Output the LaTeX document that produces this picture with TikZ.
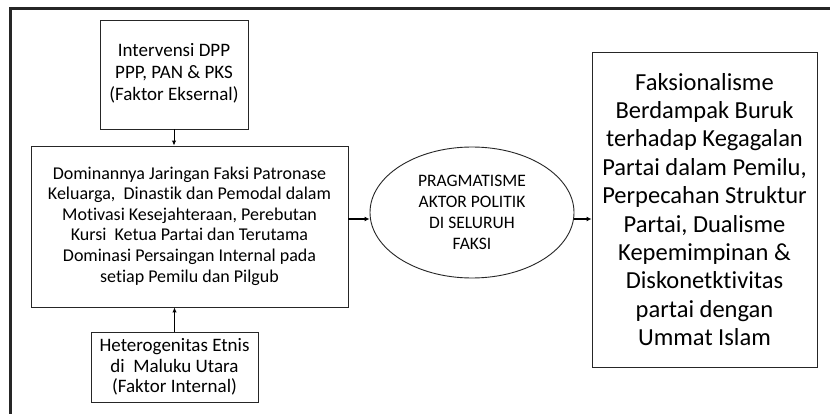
\documentclass[tikz,border=0pt]{standalone}
\usepackage{fontspec}
\setmainfont{Carlito}[RawFeature=-liga]
\usetikzlibrary{shapes.geometric,arrows.meta}
\tikzset{
  boxs/.style={draw=black!85, line width=0.9pt, align=center, inner sep=2pt},
  conn/.style={line width=1pt, -{Latex[length=5pt,width=4.5pt]}},
  connthick/.style={line width=1.8pt, -{Latex[length=5pt,width=5pt]}},
}
\begin{document}
\begin{tikzpicture}[x=1pt,y=-1pt]
\useasboundingbox (0,0) rectangle (830,414);
\fill[white] (0,0) rectangle (830,414);
\draw[line width=3pt, black!85] (10,420) -- (10,9) -- (835,9);

\node[boxs, minimum width=148pt, minimum height=109pt, font={\fontsize{19}{22}\selectfont}]
  (top) at (174,74.5) {\raisebox{-3pt}{\begin{tabular}{@{}c@{}}Intervensi DPP\\PPP, PAN \& PKS\\(Faktor Eksernal)\end{tabular}}};
\node[boxs, minimum width=317pt, minimum height=161pt, font={\fontsize{18}{20.6}\selectfont}]
  (main) at (189.5,226.5) {\raisebox{-3pt}{\begin{tabular}{@{}c@{}}Dominannya Jaringan Faksi Patronase\\Keluarga,\ \ Dinastik dan Pemodal dalam\\Motivasi Kesejahteraan, Perebutan\\Kursi\ \ Ketua Partai dan Terutama\\Dominasi Persaingan Internal pada\\setiap Pemilu dan Pilgub\end{tabular}}};
\node[boxs, minimum width=167pt, minimum height=70pt, font={\fontsize{19}{20.6}\selectfont}]
  (bot) at (174.5,367) {Heterogenitas Etnis\\di\ \ Maluku Utara\\(Faktor Internal)};
\node[boxs, ellipse, inner sep=0pt, minimum width=204pt, minimum height=131pt, font={\fontsize{17.5}{20.8}\selectfont}]
  (ell) at (472,212.5) {PRAGMATISME\\AKTOR POLITIK\\DI SELURUH\\FAKSI};
\node[boxs, minimum width=225pt, minimum height=315pt, font={\fontsize{24.5}{28.4}\selectfont}]
  (res) at (704.5,209.5) {Faksionalisme\\Berdampak Buruk\\terhadap Kegagalan\\Partai dalam Pemilu,\\Perpecahan Struktur\\Partai, Dualisme\\Kepemimpinan \&\\Diskonetktivitas\\partai dengan\\Ummat Islam};

\draw[conn] (top.south) -- (top.south |- main.north);
\draw[conn] (bot.north) -- (bot.north |- main.south);
\draw[connthick] ([yshift=7.5pt]main.east) -- ([yshift=7.5pt]main.east -| ell.west);
\draw[connthick] ([yshift=-6.5pt]ell.east) -- ([yshift=-6.5pt]ell.east -| res.west);
\end{tikzpicture}
\end{document}
